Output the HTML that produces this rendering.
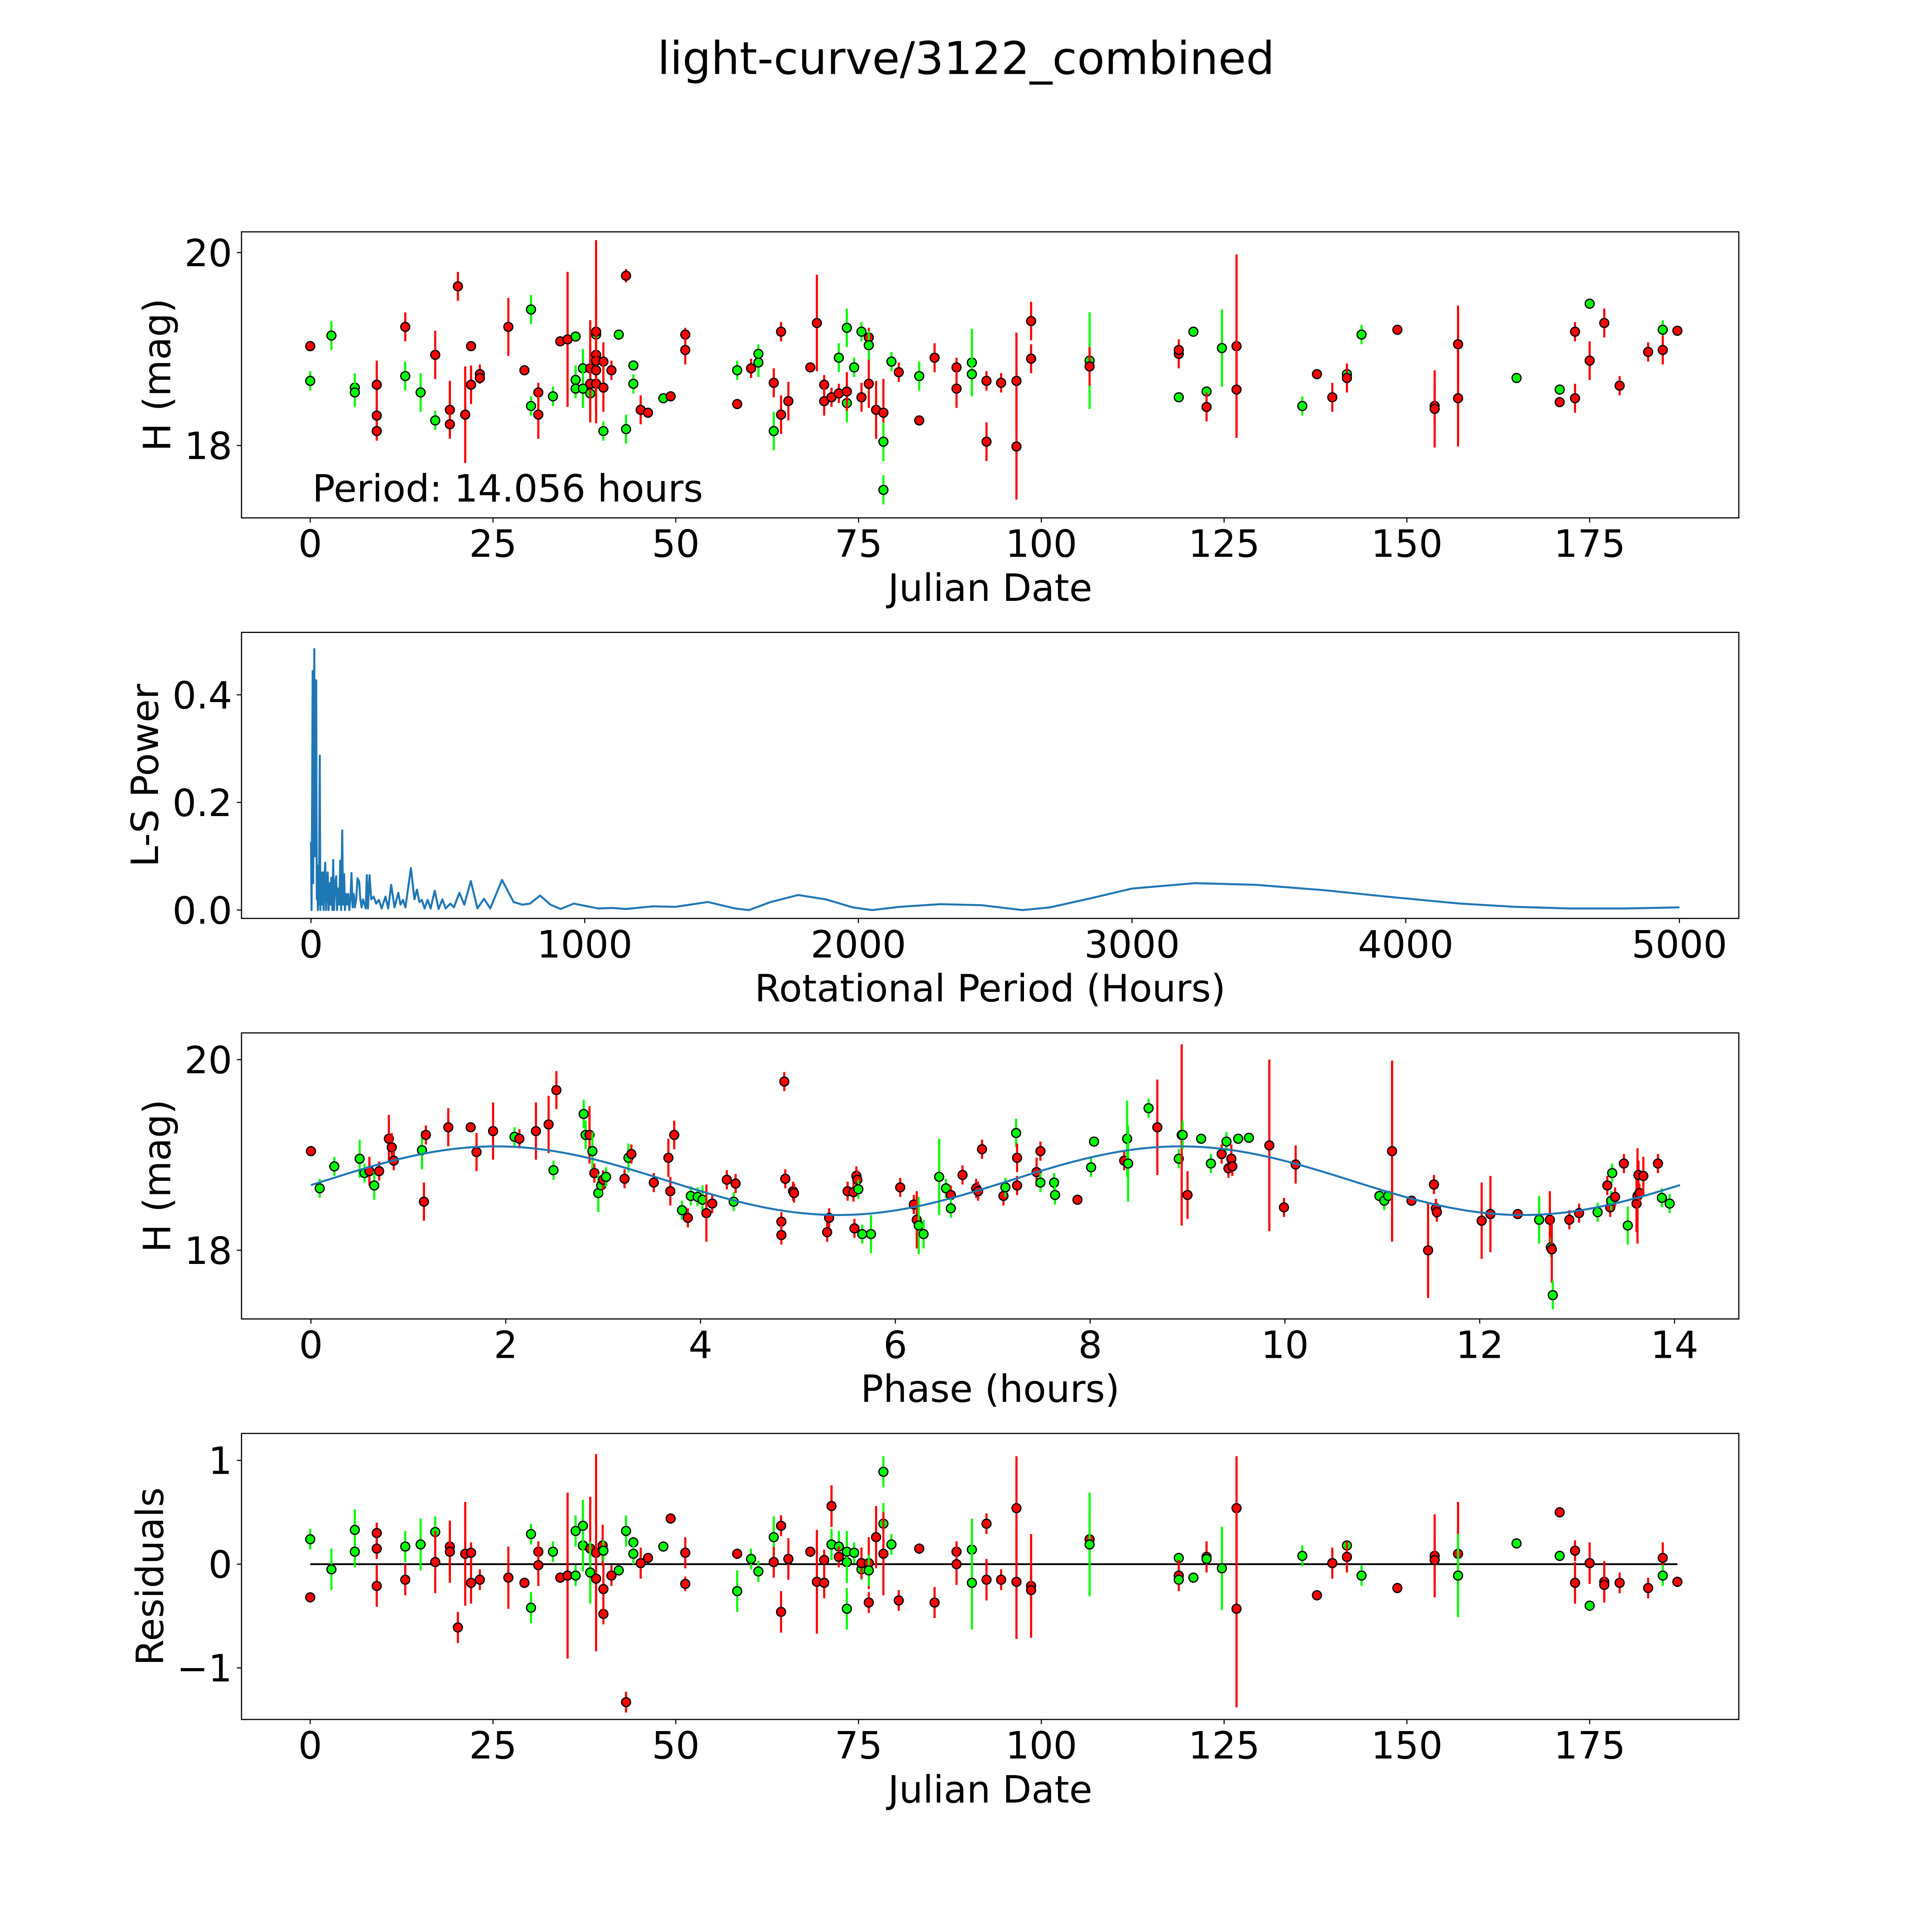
<!DOCTYPE html>
<html><head><meta charset="utf-8"><title>light-curve/3122_combined</title>
<style>html,body{margin:0;padding:0;background:#fff;overflow:hidden;width:100%;height:100%}svg{display:block;width:100vw;height:100vh}text{font-family:"DejaVu Sans","Liberation Sans",sans-serif;fill:#000}</style>
</head><body>
<svg id="fig" xmlns="http://www.w3.org/2000/svg" viewBox="0 0 5400 5400" preserveAspectRatio="xMidYMid meet">
<rect x="0" y="0" width="5400" height="5400" fill="#fff"/>
<text x="2700" y="207" font-size="126" text-anchor="middle">light-curve/3122_combined</text>
</svg>
<script>
// ---- Panel 1: raw light curve (Julian Date vs H) ----
const dates1=[0,0,2.9,6.1,6.1,9.1,9.1,9.1,13,13,
15.1,17.1,17.1,19.1,19.1,20.2,21.2,22,22,23.2,
23.2,27.1,29.3,30.2,30.2,31.2,31.2,33.2,34.2,35.2,
36.3,36.3,36.3,37.3,37.3,38.3,38.3,38.3,39.1,39.1,
39.1,39.1,39.1,39.1,40.1,40.1,40.1,41.2,42.2,43.2,
43.2,44.2,44.2,45.2,46.2,48.3,49.3,51.3,51.3,58.4,
58.4,60.3,61.3,61.3,63.4,63.4,64.4,64.4,65.4,68.4,
69.3,70.3,70.3,71.3,72.3,72.3,73.4,73.4,73.4,74.4,
75.4,75.4,76.4,76.4,76.4,77.4,78.4,78.4,78.4,79.5,
80.5,83.3,83.3,85.4,88.4,88.4,90.5,90.5,92.5,92.5,
94.5,96.6,96.6,98.6,98.6,106.6,106.6,118.8,118.8,118.8,
120.8,122.6,122.6,124.7,126.7,126.7,135.7,137.7,139.8,141.8,
141.8,143.8,148.7,153.8,153.8,157,157,165,170.9,170.9,
173,173,175,175,177,179.1,183,185,185,187];
const mags1=[19.03,18.67,19.14,18.6,18.55,18.63,18.31,18.15,19.23,18.72,
18.55,18.94,18.26,18.37,18.22,19.65,18.32,18.63,19.03,18.74,
18.7,19.23,18.78,19.41,18.41,18.55,18.32,18.51,19.08,19.1,
19.13,18.68,18.59,18.8,18.59,18.8,18.54,18.64,18.94,19.15,
19.18,18.88,18.64,18.78,18.87,18.15,18.6,18.78,19.15,19.76,
18.17,18.83,18.64,18.37,18.34,18.49,18.51,19.15,18.99,18.43,
18.78,18.8,18.86,18.95,18.15,18.65,19.18,18.32,18.46,18.81,
19.27,18.63,18.46,18.5,18.91,18.54,19.22,18.44,18.56,18.81,
19.18,18.5,19.12,19.04,18.64,18.37,18.34,18.04,17.54,18.87,
18.76,18.26,18.72,18.91,18.81,18.59,18.86,18.74,18.67,18.04,
18.65,18.67,17.99,19.29,18.9,18.88,18.82,18.95,18.99,18.5,
19.18,18.56,18.4,19.01,19.03,18.58,18.41,18.74,18.5,18.74,
18.7,19.15,19.2,18.41,18.38,19.05,18.49,18.7,18.58,18.45,
19.18,18.49,19.47,18.88,19.27,18.62,18.97,19.2,18.99,19.19];
const errs1=[.05,.1,.15,.15,.15,.25,.1,.1,.15,.15,
.2,.25,.1,.3,.15,.15,.5,.2,.05,.1,
.05,.3,.05,.15,.1,.1,.25,.1,.05,.7,
.05,.15,.1,.2,.2,.5,.3,.4,.3,.4,
.95,.35,.3,.2,.2,.1,.25,.1,.05,.07,
.15,.05,.1,.15,.05,.05,.05,.07,.15,.03,
.1,.1,.15,.1,.2,.15,.1,.2,.2,.05,
.5,.1,.15,.1,.15,.1,.2,.2,.2,.1,
.1,.15,.1,.15,.25,.3,.35,.2,.15,.1,
.1,.05,.15,.15,.1,.2,.35,.2,.1,.2,
.1,.5,.55,.2,.15,.5,.2,.15,.05,.05,
.05,.05,.15,.4,.95,.5,.1,.05,.15,.05,
.15,.1,.05,.2,.4,.4,.5,.05,.05,.05,
.1,.15,.05,.2,.15,.1,.1,.1,.15,.05];
const filters1=["r","g","g","g","g","r","r","r","r","g",
"g","r","g","r","r","r","r","r","r","r",
"r","r","r","g","g","r","r","g","r","r",
"g","g","g","g","g","r","g","r","r","g",
"r","r","r","r","r","g","r","r","g","r",
"g","g","g","r","r","g","r","r","r","r",
"g","r","g","g","g","r","r","r","r","r",
"r","r","r","r","g","r","g","g","r","g",
"g","r","r","g","r","r","r","g","g","g",
"r","r","g","r","r","r","g","g","r","r",
"r","r","r","r","r","g","r","r","r","g",
"g","g","r","g","r","r","g","r","r","g",
"r","g","r","r","r","r","r","g","g","r",
"r","r","g","r","r","r","r","g","r","r"];
const xTicks1=[0,25,50,75,100,125,150,175];
const yTicks1=[18,20];
const periodLabel="Period: 14.056 hours";

// ---- Panel 2: Lomb-Scargle periodogram ----
const periods2=[0,2,4,6,8,10,12,14,16,19,21,23,25,27,29,32,34,37,40,43,46,49,52,55,58,61,64,67,70,74,78,81,84,88,92,95,99,103,107,110,114,117,121,124,128,132,136,140,144,148,152,156,160,165,170,176,180,185,190,196,200,204,208,214,220,229,238,248,258,272,282,293,305,319,327,336,345,365,378,387,396,405,415,426,437,452,466,480,492,509,522,542,560,584,608,632,655,698,740,772,800,837,875,912,960,1000,1050,1100,1150,1250,1330,1450,1550,1600,1680,1780,1880,1980,2050,2150,2300,2450,2600,2700,2850,3000,3230,3450,3700,3950,4200,4400,4600,4800,5000];
const powers2=[.127,0,.2,.444,.05,.3,.485,.1,.35,.427,.02,.083,0,.06,.01,.287,0,.07,.01,.07,0,.06,.088,0,.05,.07,0,.05,.01,.06,0,.093,0,.05,.063,0,.04,.01,.092,0,.148,.01,.067,0,.03,.01,.03,0,.02,.069,.005,.03,.005,.02,.059,.053,.02,.005,.02,.01,.003,.065,.003,.065,.02,.025,.012,.019,.003,.025,.003,.047,.005,.032,.01,.019,.005,.078,.02,.038,.015,.019,.003,.019,.003,.036,.002,.02,.003,.012,.005,.032,.01,.054,.003,.021,.003,.056,.015,.01,.012,.027,.01,.002,.012,.008,.003,.004,.002,.007,.006,.015,.003,0,.015,.028,.02,.005,0,.006,.011,.009,0,.005,.022,.04,.05,.047,.037,.024,.012,.006,.003,.003,.005];
const xTicks2=[0,1000,2000,3000,4000,5000];
const yTicks2=[0,0.2,0.4];
const yTickLabels2=["0.0","0.2","0.4"];

// ---- Panel 3: phase-folded curve ----
const phases3=[0,.09,.24,.5,.55,.6,.65,.7,.8,.83,
.85,1.14,1.16,1.18,1.41,1.64,1.7,1.87,2.09,2.14,
2.31,2.44,2.49,2.52,2.8,2.82,2.86,2.89,2.91,2.95,
2.98,3,3.03,3.22,3.26,3.29,3.52,3.67,3.69,3.73,
3.81,3.87,3.9,3.97,4.02,4.06,4.12,4.27,4.34,4.36,
4.83,4.83,4.86,4.87,4.95,4.96,5.3,5.32,5.51,5.57,
5.6,5.61,5.62,5.58,5.66,5.75,6.05,6.19,6.22,6.24,
6.29,6.45,6.52,6.57,6.57,6.69,6.83,6.85,6.89,7.11,
7.13,7.24,7.25,7.25,7.45,7.49,7.49,7.63,7.64,7.87,
8.01,8.04,8.35,8.38,8.39,8.6,8.69,8.91,8.94,8.95,
9,9.14,9.24,9.35,9.4,9.42,9.45,9.46,9.52,9.63,
9.84,9.99,10.11,10.97,11.02,11.06,11.1,11.3,11.47,11.53,
11.55,11.56,12.02,12.11,12.39,12.61,12.72,12.73,12.74,12.75,
12.92,13.02,13.21,13.31,13.34,13.35,13.36,13.39,13.48,13.52,
13.61,13.62,13.63,13.64,13.68,13.83,13.87,13.95];
const mags3=[19.04,18.65,18.88,18.96,18.81,18.83,18.68,18.83,19.17,19.08,
18.94,19.05,18.51,19.21,19.29,19.29,19.03,19.25,19.19,19.17,
19.25,19.32,18.84,19.68,19.43,19.21,19.21,19.04,18.81,18.6,
18.68,18.74,18.77,18.75,18.97,19.01,18.71,18.97,18.62,19.21,
18.42,18.34,18.57,18.56,18.53,18.39,18.49,18.74,18.51,18.7,
18.3,18.16,19.77,18.75,18.62,18.6,18.19,18.34,18.62,18.61,
18.78,18.74,18.64,18.23,18.17,18.17,18.66,18.48,18.32,18.26,
18.17,18.77,18.65,18.58,18.44,18.79,18.65,18.62,19.06,18.57,
18.66,19.23,18.97,18.68,18.82,19.04,18.71,18.71,18.58,18.53,
18.87,19.14,18.94,19.17,18.91,19.49,19.29,18.96,19.21,19.21,
18.58,19.17,18.91,19.01,19.14,18.86,18.96,18.88,19.17,19.18,
19.1,18.45,18.9,18.57,18.52,18.57,19.04,18.52,18,18.69,
18.44,18.4,18.31,18.38,18.38,18.32,18.32,18.03,18.01,17.53,
18.32,18.39,18.4,18.68,18.45,18.52,18.81,18.56,18.91,18.26,
18.49,18.57,18.79,18.6,18.78,18.91,18.55,18.49];
const errs3=[.05,.1,.1,.2,.1,.15,.15,.1,.25,.15,
.1,.2,.2,.1,.2,.05,.2,.3,.1,.1,
.3,.3,.1,.2,.15,.15,.3,.2,.1,.2,
.1,.1,.1,.1,.15,.1,.1,.2,.15,.15,
.1,.1,.1,.1,.15,.3,.1,.1,.1,.1,
.1,.1,.1,.1,.1,.1,.1,.1,.1,.1,
.1,.1,.1,.1,.1,.2,.1,.1,.3,.3,
.15,.4,.1,.1,.1,.1,.1,.1,.1,.1,
.1,.15,.15,.1,.15,.1,.1,.1,.1,.05,
.1,.05,.1,.4,.4,.1,.5,.1,.95,.15,
.25,.05,.1,.1,.1,.1,.15,.1,.05,.05,
.9,.1,.2,.05,.1,.05,.95,.05,.5,.1,
.1,.1,.4,.4,.05,.25,.3,.1,.35,.15,
.1,.1,.1,.1,.1,.1,.1,.1,.1,.2,
.3,.5,.15,.1,.2,.1,.1,.1];
const filters3=["r","g","g","g","g","r","g","r","r","r",
"r","g","r","r","r","r","r","r","g","r",
"r","r","g","r","g","g","r","g","r","g",
"g","r","g","r","g","r","r","r","r","r",
"g","r","g","g","g","r","r","r","g","r",
"r","r","r","r","r","r","r","r","r","r",
"r","r","g","r","g","g","r","r","r","g",
"g","g","g","r","g","r","r","r","r","r",
"g","g","r","r","r","r","g","g","g","r",
"g","g","r","g","g","g","r","g","r","g",
"r","g","g","r","g","r","r","r","g","g",
"r","r","r","g","g","g","r","r","r","r",
"r","r","r","r","r","g","r","g","r","g",
"r","r","g","r","r","g","g","r","r","g",
"r","r","r","r","r","r","g","g"];
const fitPeriod=[14.056];
const fitMean=[18.73];
const fitAmp=[0.36];
const fitPeakPhase=[1.9];
const xTicks3=[0,2,4,6,8,10,12,14];
const yTicks3=[18,20];

// ---- Panel 4: residuals ----
const dates4=[0,0,2.9,6.1,6.1,9.1,9.1,9.1,13,13,
15.1,17.1,17.1,19.1,19.1,20.2,21.2,22,22,23.2,
27.1,29.3,30.2,30.2,31.2,31.2,33.2,34.2,35.2,36.3,
36.3,37.3,37.3,38.3,38.3,39.1,39.1,40,40.1,40.1,
40.1,41.2,42.2,43.2,43.2,44.2,44.2,45.2,46.2,48.3,
49.3,51.3,51.3,58.4,58.4,60.3,61.3,63.4,63.4,64.4,
64.4,65.4,68.4,69.3,70.3,70.3,71.3,71.3,72.3,72.3,
73.4,73.4,73.4,74.4,75.4,75.4,76.4,76.4,76.4,77.4,
78.4,78.4,78.4,79.5,80.5,83.3,85.4,88.4,88.4,90.5,
90.5,92.5,92.5,94.5,96.6,96.6,98.6,98.6,106.6,106.6,
118.8,118.8,118.8,120.8,122.6,122.6,124.7,126.7,126.7,135.7,
137.7,139.8,141.8,141.8,143.8,148.7,153.8,153.8,157,157,
165,170.9,170.9,173,173,175,175,177,177,179.1,
183,185,185,187];
const resid4=[.24,-.32,-.05,.33,.12,.3,.15,-.21,.17,-.15,
.19,.31,.02,.17,.12,-.61,.1,.11,-.18,-.15,
-.13,-.18,.29,-.42,.12,-.01,.12,-.13,-.11,.32,
-.11,.18,.37,.15,-.08,.11,-.14,.18,.13,-.48,
-.24,-.11,-.06,-1.33,.32,.21,.1,.01,.06,.17,
.44,.11,-.19,-.26,.1,.05,-.07,.26,.02,.37,
-.46,.05,.12,-.17,-.18,.04,.56,.19,.17,.07,
.02,-.43,.12,.11,-.05,.01,.01,-.37,-.06,.26,
.39,.89,.1,.19,-.35,.15,-.37,.12,0,.14,
-.18,.39,-.15,-.15,.54,-.17,-.21,-.25,.24,.19,
.06,-.11,-.15,-.13,.07,.05,-.04,.54,-.43,.08,
-.3,.01,.18,.07,-.11,-.23,.08,.04,.1,-.11,
.2,.5,.08,.13,-.18,.01,-.4,-.17,-.2,-.18,
-.23,.06,-.11,-.17];
const errs4=[.1,.05,.2,.2,.15,.1,.1,.2,.15,.15,
.25,.15,.3,.15,.3,.15,.5,.1,.2,.1,
.3,.05,.1,.15,.1,.2,.1,.05,.8,.15,
.1,.25,.25,.5,.3,.95,.3,.2,.1,.1,
.25,.1,.05,.1,.15,.05,.1,.15,.05,.05,
.05,.15,.07,.2,.05,.1,.1,.2,.15,.1,
.2,.2,.05,.5,.15,.1,.2,.15,.15,.1,
.2,.2,.2,.1,.1,.15,.25,.1,.15,.3,
.2,.15,.4,.1,.1,.05,.15,.1,.2,.3,
.45,.1,.2,.1,.5,.55,.5,.15,.2,.5,
.05,.15,.05,.05,.15,.05,.4,.5,.95,.1,
.05,.15,.05,.15,.1,.05,.4,.2,.5,.4,
.05,.05,.05,.1,.2,.2,.05,.2,.15,.1,
.1,.15,.1,.05];
const filters4=["g","r","g","g","g","r","r","r","g","r",
"g","g","r","r","r","r","r","r","r","r",
"r","r","g","g","r","r","g","r","r","g",
"g","g","g","r","g","r","r","r","g","r",
"r","r","g","r","g","g","g","r","r","g",
"r","r","r","g","r","g","g","g","r","r",
"r","r","r","r","r","r","r","g","g","r",
"g","g","g","g","g","r","r","r","g","r",
"g","g","r","g","r","r","r","r","r","g",
"g","r","r","r","r","r","r","r","r","g",
"g","r","g","g","r","g","g","r","r","g",
"r","r","g","r","g","r","r","r","r","g",
"g","r","g","r","r","r","g","r","r","r",
"r","r","g","r"];
const xTicks4=[0,25,50,75,100,125,150,175];
const yTicks4=[-1,0,1];
const yTickLabels4=["\u22121","0","1"];

const SVGNS="http://www.w3.org/2000/svg";
const fig=document.getElementById('fig');
const FS=105;
const COLORS={r:"#ff0000",g:"#00ff00"};
function mk(tag,attrs,parent){
  const el=document.createElementNS(SVGNS,tag);
  for(const k in attrs) el.setAttribute(k,attrs[k]);
  (parent||fig).appendChild(el);
  return el;
}
function makeAxes(box,xlim,ylim){
  const sx=v=>box.x0+(v-xlim[0])/(xlim[1]-xlim[0])*(box.x1-box.x0);
  const sy=v=>box.y1-(v-ylim[0])/(ylim[1]-ylim[0])*(box.y1-box.y0);
  return {sx,sy,box};
}
function drawFrame(ax,name,xt,xtl,yt,ytl,xlabel,ylabel,ylabelX){
  const b=ax.box;
  const g=mk('g',{});
  
  
  for(let i=0;i<xt.length;i++){
    const x=ax.sx(xt[i]);
    const t=mk('line',{x1:x,x2:x,y1:b.y1,y2:b.y1+13,stroke:'#000','stroke-width':3},g);
    
    
    const l=mk('text',{x:x,y:b.y1+109,'font-size':FS,'text-anchor':'middle'},g);
    
    
    l.textContent=xtl[i];
  }
  for(let i=0;i<yt.length;i++){
    const y=ax.sy(yt[i]);
    const t=mk('line',{x1:b.x0-13,x2:b.x0,y1:y,y2:y,stroke:'#000','stroke-width':3},g);
    
    
    const l=mk('text',{x:b.x0-26,y:y+38,'font-size':FS,'text-anchor':'end'},g);
    
    
    l.textContent=ytl[i];
  }
  const xl=mk('text',{x:(b.x0+b.x1)/2,y:b.y1+232,'font-size':FS,'text-anchor':'middle'},g);
  
  
  xl.textContent=xlabel;
  const ym=(b.y0+b.y1)/2;
  const yl=mk('text',{x:ylabelX,y:ym,'font-size':FS,'text-anchor':'middle',transform:'rotate(-90 '+ylabelX+' '+ym+')'},g);
  
  
  yl.textContent=ylabel;
  const fr=mk('rect',{x:b.x0,y:b.y0,width:b.x1-b.x0,height:b.y1-b.y0,fill:'none',stroke:'#000','stroke-width':3.2},g);
  
  
}
function drawPoints(ax,name,xs,ys,es,fs){
  const g=mk('g',{});
  
  
  const n=Math.min(xs.length,ys.length,es.length,fs.length);
  for(let i=0;i<n;i++){
    const c=COLORS[fs[i]]||'#ff0000';
    const x=ax.sx(xs[i]);
    const bar=mk('line',{x1:x,x2:x,y1:ax.sy(ys[i]-es[i]),y2:ax.sy(ys[i]+es[i]),stroke:c,'stroke-width':6},g);
    
    
    const dot=mk('circle',{cx:x,cy:ax.sy(ys[i]),r:12.5,fill:c,stroke:'#000','stroke-width':3.5},g);
    
    
  }
}
const L=675,R=4860,H=799.5;
const tops=[648,1767.5,2887,4006.5];
const box=i=>({x0:L,x1:R,y0:tops[i],y1:tops[i]+H});

// Panel 1
const ax1=makeAxes(box(0),[-9.4,195.4],[17.25,20.215]);
drawPoints(ax1,'light-curve',dates1,mags1,errs1,filters1);
drawFrame(ax1,'light-curve',xTicks1,xTicks1.map(String),yTicks1,yTicks1.map(String),'Julian Date','H (mag)',476);
const pl=mk('text',{x:873,y:1402,'font-size':FS});


pl.textContent=periodLabel;

// Panel 2
const ax2=makeAxes(box(1),[-254,5217],[-0.0155,0.516]);
const pts2=[];
for(let i=0;i<Math.min(periods2.length,powers2.length);i++) pts2.push(ax2.sx(periods2[i]).toFixed(1)+','+ax2.sy(powers2[i]).toFixed(1));
const ls=mk('polyline',{points:pts2.join(' '),fill:'none',stroke:'#1f77b4','stroke-width':5.6,'stroke-linejoin':'round'});


drawFrame(ax2,'periodogram',xTicks2,xTicks2.map(String),yTicks2,yTickLabels2,'Rotational Period (Hours)','L-S Power',442);

// Panel 3
const ax3=makeAxes(box(2),[-0.713,14.66],[17.28,20.28]);
drawPoints(ax3,'phase-curve',phases3,mags3,errs3,filters3);
const pts3=[];
for(let k=0;k<=300;k++){
  const p=fitPeriod[0]*k/300;
  const m=fitMean[0]+fitAmp[0]*Math.cos(2*Math.PI*2*(p-fitPeakPhase[0])/fitPeriod[0]);
  pts3.push(ax3.sx(p).toFixed(1)+','+ax3.sy(m).toFixed(1));
}
const fit=mk('polyline',{points:pts3.join(' '),fill:'none',stroke:'#1f77b4','stroke-width':5.6});


drawFrame(ax3,'phase-curve',xTicks3,xTicks3.map(String),yTicks3,yTicks3.map(String),'Phase (hours)','H (mag)',476);

// Panel 4
const ax4=makeAxes(box(3),[-9.4,195.4],[-1.497,1.26]);
const zl=mk('line',{x1:ax4.sx(Math.min(...dates4)),x2:ax4.sx(Math.max(...dates4)),y1:ax4.sy(0),y2:ax4.sy(0),stroke:'#000','stroke-width':5});


drawPoints(ax4,'residuals',dates4,resid4,errs4,filters4);
drawFrame(ax4,'residuals',xTicks4,xTicks4.map(String),yTicks4,yTickLabels4,'Julian Date','Residuals',456);
</script>
</body></html>
